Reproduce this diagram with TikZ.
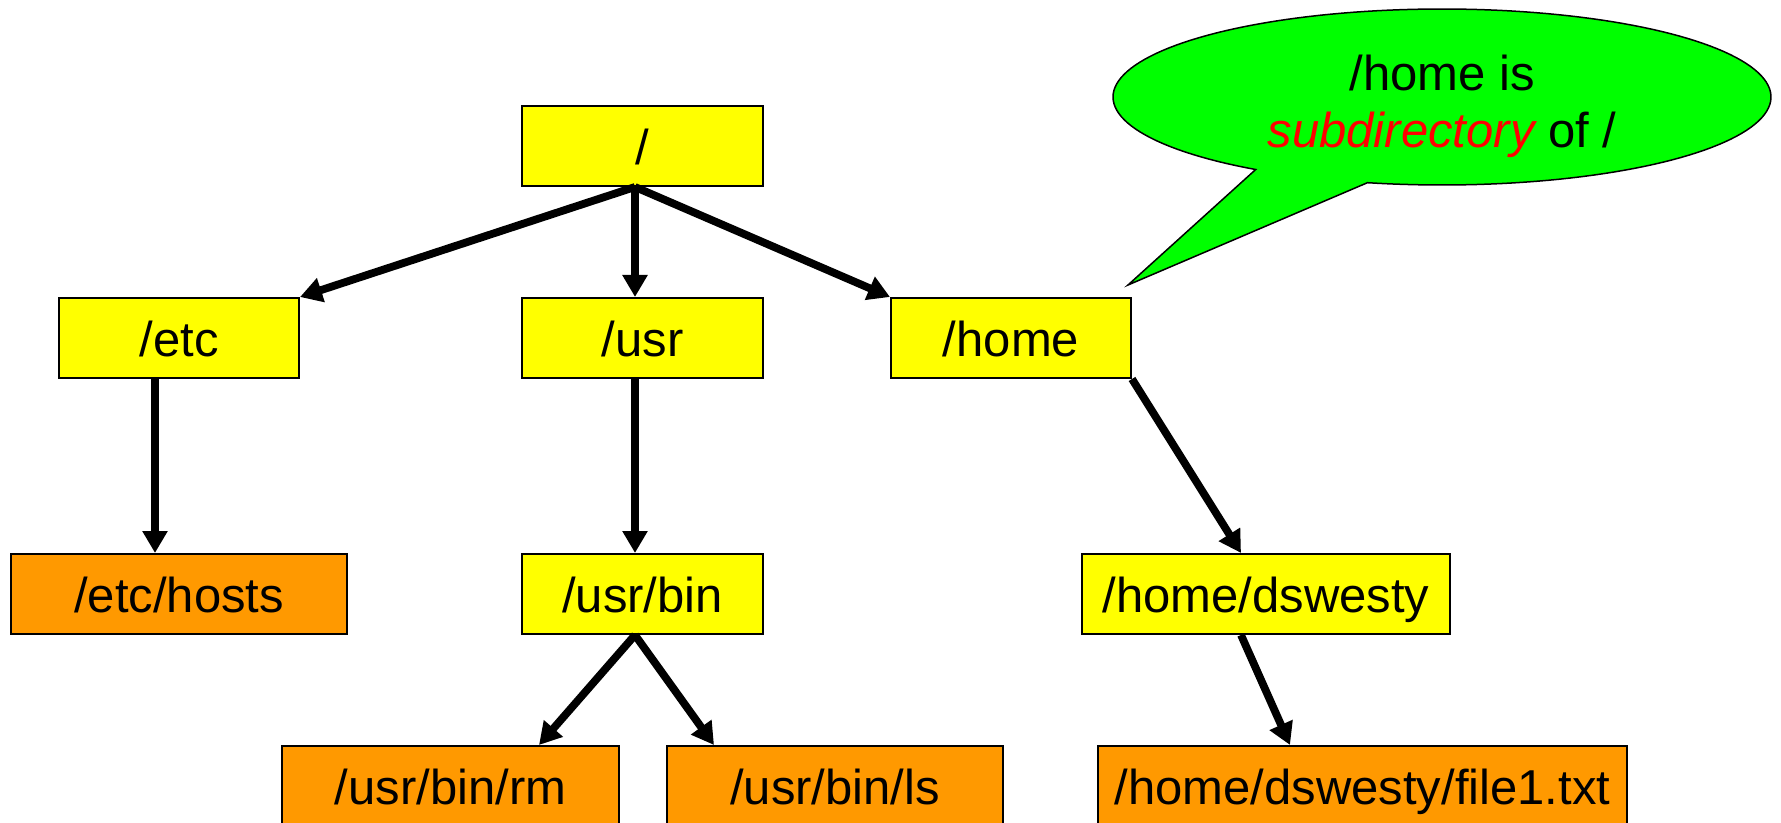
\documentclass[tikz,border=0pt]{standalone}
\usepackage{fontspec}
\setmainfont{Liberation Sans}
\usetikzlibrary{arrows.meta,calc}
\definecolor{diryellow}{HTML}{FFFF00}
\definecolor{fileorange}{HTML}{FF9900}
\definecolor{calloutgreen}{HTML}{00FF00}
\definecolor{emphred}{HTML}{FF0000}

\begin{document}
\begin{tikzpicture}[x=0.5pt,y=-0.5pt,
  labelfont/.style={font=\fontsize{24.5}{29}\selectfont},
  box/.style={draw=black, line width=1pt, inner sep=0pt, minimum height=40pt,
    text height=18.5pt, text depth=0pt, labelfont},
  dirbox/.style={box, fill=diryellow},
  filebox/.style={box, fill=fileorange},
  link/.style={line width=3.9pt, -{Triangle[length=11pt,width=12pt]}},
]
\clip (0,0) rectangle (1781,823);

% directory tree
\node[dirbox, minimum width=120.5pt] (root) at (642.5,146) {/};
\node[dirbox, minimum width=120pt] (etc) at (179,338) {/etc};
\node[dirbox, minimum width=120.5pt] (usr) at (642.5,338) {/usr};
\node[dirbox, minimum width=120pt] (home) at (1011,338) {/home};
\node[filebox, minimum width=168pt] (hosts) at (179,594) {/etc/hosts};
\node[dirbox, minimum width=120.5pt] (usrbin) at (642.5,594) {/usr/bin};
\node[dirbox, minimum width=184pt] (dswesty) at (1266,594) {/home/dswesty};
\node[filebox, minimum width=168.5pt] (rm) at (450.5,786) {/usr/bin/rm};
\node[filebox, minimum width=168pt] (ls) at (835,786) {/usr/bin/ls};
\node[filebox, minimum width=264.5pt] (file1) at (1362.5,786) {/home/dswesty/file1.txt};

% connectors
\coordinate (rootout) at ($(root.south)+(-7.5,0)$);
\draw[link] (rootout) -- (etc.north east);
\draw[link] (rootout) -- ($(usr.north)+(-7.5,0)$);
\draw[link] (rootout) -- (home.north west);
\draw[link] ($(etc.south)+(-24,0)$) -- ($(hosts.north)+(-24,0)$);
\draw[link] ($(usr.south)+(-7.5,0)$) -- ($(usrbin.north)+(-7.5,0)$);
\draw[link] (home.south east) -- ($(dswesty.north)+(-25,0)$);
\coordinate (binout) at ($(usrbin.south)+(-7.5,0)$);
\draw[link] (binout) -- ($(rm.north)+(88.5,0)$);
\draw[link] (binout) -- ($(ls.north)+(-121,0)$);
\draw[link] ($(dswesty.south)+(-25,0)$) -- ($(file1.north)+(-72.5,0)$);

% speech balloon
\coordinate (tip) at (1128,285);
\filldraw[fill=calloutgreen, draw=black, line width=0.75pt]
  plot[domain=124.5:463.1, samples=160, variable=\t] ({1442+329*cos(\t)},{97+88*sin(\t)})
  -- (tip) -- cycle;
\node[anchor=base, labelfont, inner sep=0pt] (noteA) at (1442,91) {/home is};
\node[anchor=base, labelfont, inner sep=0pt] (noteB) at (1442,148) {\textcolor{emphred}{\itshape subdirectory} of /};
\end{tikzpicture}
\end{document}
